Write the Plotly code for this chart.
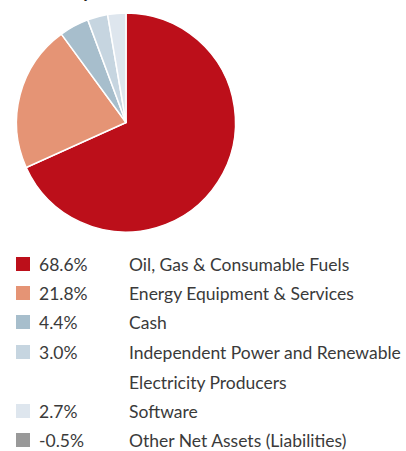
import plotly.graph_objects as go

labels = ["Oil, Gas & Consumable Fuels", "Energy Equipment & Services", "Cash",
          "Independent Power and Renewable<br>Electricity Producers", "Software",
          "Other Net Assets (Liabilities)"]
values = [68.6, 21.8, 4.4, 3.0, 2.7, -0.5]
pct_labels = ["68.6%", "21.8%", "4.4%", "3.0%", "2.7%", "-0.5%"]
colors = ["#BC0F1A", "#E59475", "#A7BECC", "#C6D5E0", "#DEE6EE", "#999999"]

W, H = 406, 451
fig = go.Figure()

pie_vals = [v for v in values if v > 0]
pie_cols = [c for v, c in zip(values, colors) if v > 0]
cx, cy, r = 126, 122.5, 109.5
fig.add_trace(go.Pie(
    values=pie_vals, labels=[l.replace("<br>", " ") for l in labels[:len(pie_vals)]],
    sort=False, direction="clockwise", rotation=0,
    marker=dict(colors=pie_cols, line=dict(color="white", width=1.5)),
    textinfo="none", hoverinfo="label+value", showlegend=False,
    domain=dict(x=[(cx - r) / W, (cx + r) / W], y=[1 - (cy + r) / H, 1 - (cy - r) / H]),
))

# cut-off title fragment at the very top
fig.add_annotation(x=87 / W, y=1 - 4 / H, xref="paper", yref="paper", text="<b>y</b>",
                   showarrow=False, xanchor="center", yanchor="bottom",
                   font=dict(family="Lato", size=19, color="#222"))

row_y = [264, 293, 322, 352, 411, 440]
font = dict(family="Lato", size=17.5, color="#3a3a3a")
for i, (p, lab, col) in enumerate(zip(pct_labels, labels, colors)):
    y = row_y[i]
    fig.add_shape(type="rect", xref="paper", yref="paper",
                  x0=16 / W, x1=30 / W, y0=1 - (y + 7) / H, y1=1 - (y - 7) / H,
                  fillcolor=col, line=dict(width=0))
    fig.add_annotation(x=37 / W, y=1 - y / H, xref="paper", yref="paper", text=p,
                       showarrow=False, xanchor="left", yanchor="middle", font=font)
    parts = lab.split("<br>")
    for k, part in enumerate(parts):
        fig.add_annotation(x=127 / W, y=1 - (y + 30 * k) / H, xref="paper", yref="paper", text=part,
                           showarrow=False, xanchor="left", yanchor="middle", font=font)

fig.update_layout(width=W, height=H, margin=dict(l=0, r=0, t=0, b=0),
                  paper_bgcolor="white", plot_bgcolor="white")
fig.write_html("out.html", config={"displayModeBar": False},
               post_script="document.body.style.margin='0';")
